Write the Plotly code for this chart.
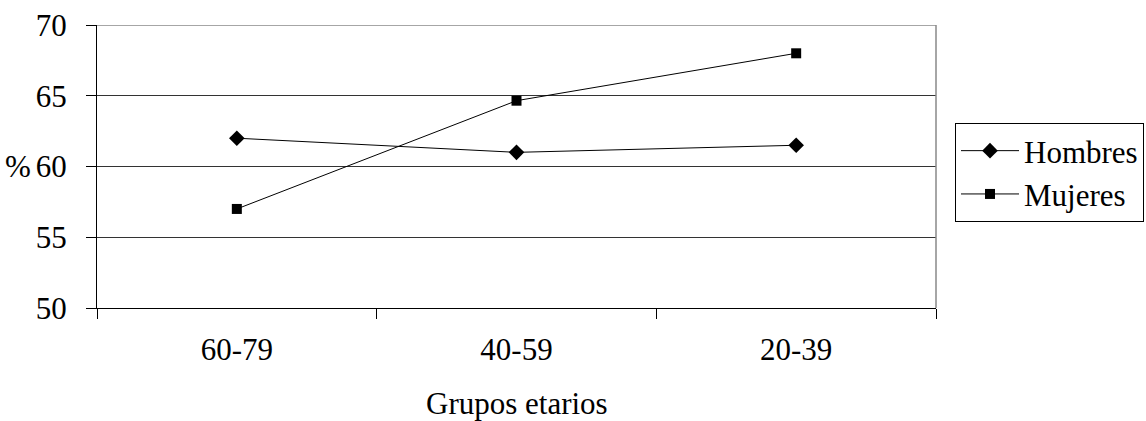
import plotly.graph_objects as go

categorias = ["60-79", "40-59", "20-39"]
hombres = [62.0, 61.0, 61.5]
mujeres = [57.0, 64.65, 68.0]
y_ticks = [50, 55, 60, 65, 70]

FONT = "Liberation Serif"
FS = 31

fig = go.Figure()
fig.add_trace(go.Scatter(
    x=categorias, y=hombres, name="Hombres", mode="lines+markers",
    line=dict(color="black", width=1),
    marker=dict(symbol="diamond", size=12, color="black"),
))
fig.add_trace(go.Scatter(
    x=categorias, y=mujeres, name="Mujeres", mode="lines+markers",
    line=dict(color="black", width=1),
    marker=dict(symbol="square", size=10, color="black"),
))

fig.update_layout(
    width=1146, height=421,
    margin=dict(l=97, r=210, t=25, b=113, autoexpand=False),
    paper_bgcolor="white", plot_bgcolor="white",
    font=dict(family=FONT, size=FS, color="black"),
    showlegend=True,
    legend=dict(
        xref="container", yref="container",
        x=955 / 1146, y=1 - 123 / 421, xanchor="left", yanchor="top",
        bordercolor="black", borderwidth=1,
        font=dict(family=FONT, size=FS, color="black"),
        tracegroupgap=0, itemwidth=58,
    ),
    xaxis=dict(
        type="category", tickson="boundaries",
        ticks="outside", ticklen=10, tickcolor="black",
        showline=True, linecolor="black", linewidth=1,
        showgrid=False, ticklabelstandoff=14, automargin=False,
        range=[-0.5, 2.5],
        tickfont=dict(family=FONT, size=FS, color="black"),
    ),
    yaxis=dict(
        range=[50, 70], tickvals=y_ticks,
        ticks="outside", ticklen=10, tickcolor="black",
        showline=True, linecolor="black", linewidth=1,
        showgrid=True, gridcolor="#333333", gridwidth=1,
        ticklabelstandoff=13, zeroline=False, automargin=False,
        tickfont=dict(family=FONT, size=FS, color="black"),
    ),
    shapes=[
        dict(type="line", xref="paper", yref="y", x0=0, x1=1, y0=70, y1=70,
             line=dict(color="#888888", width=1.5), layer="above"),
        dict(type="line", xref="paper", yref="paper", x0=1, x1=1, y0=0, y1=1,
             line=dict(color="#888888", width=1.5), layer="above"),
    ],
    annotations=[
        dict(text="%", xref="paper", yref="y", x=0, y=60,
             xanchor="right", yanchor="middle", showarrow=False,
             xshift=-64,
             font=dict(family=FONT, size=FS, color="black")),
        dict(text="Grupos etarios", xref="paper", yref="paper", x=0.5, y=0,
             xanchor="center", yanchor="middle", yshift=-95, showarrow=False,
             font=dict(family=FONT, size=FS, color="black")),
    ],
)

fig.write_html("out.html")
